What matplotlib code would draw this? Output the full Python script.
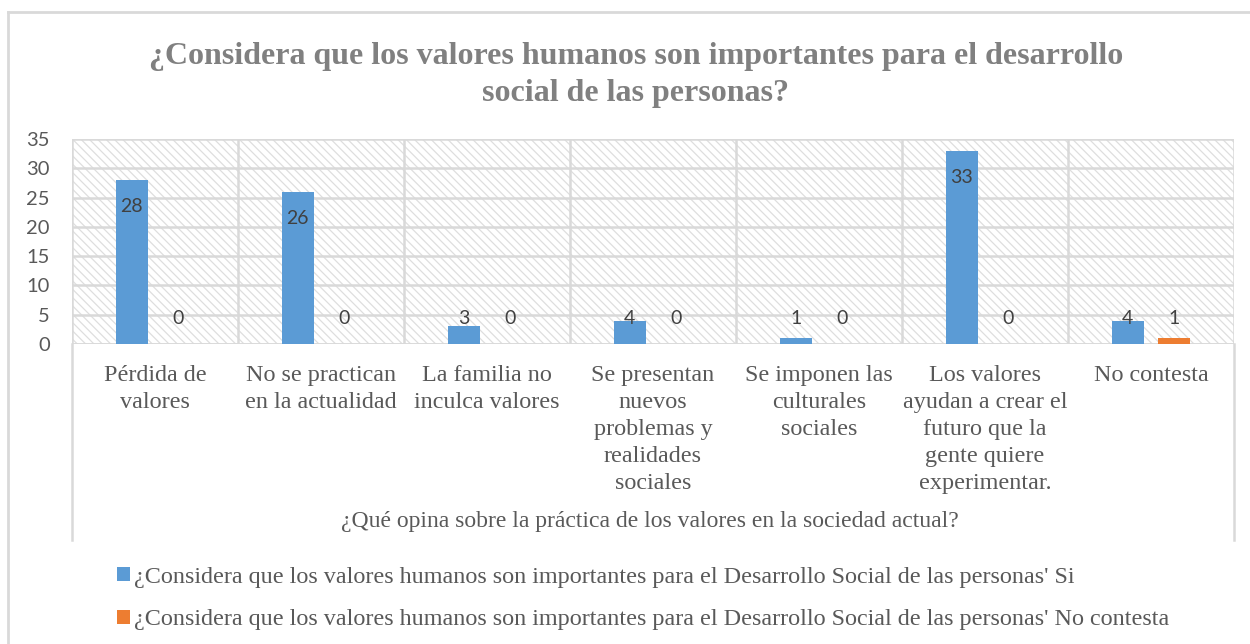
import numpy as np
import matplotlib
matplotlib.use("Agg")
import matplotlib.pyplot as plt
from matplotlib.lines import Line2D
from matplotlib.patches import Patch

# datos
categorias = ["Pérdida de\nvalores", "No se practican\nen la actualidad",
              "La familia no\ninculca valores",
              "Se presentan\nnuevos\nproblemas y\nrealidades\nsociales",
              "Se imponen las\nculturales\nsociales",
              "Los valores\nayudan a crear el\nfuturo que la\ngente quiere\nexperimentar.",
              "No contesta"]
si = [28, 26, 3, 4, 1, 33, 4]
no_contesta = [0, 0, 0, 0, 0, 0, 1]
serie_si = "¿Considera que los valores humanos son importantes para el Desarrollo Social de las personas' Si"
serie_nc = "¿Considera que los valores humanos son importantes para el Desarrollo Social de las personas' No contesta"
titulo = "¿Considera que los valores humanos son importantes para el desarrollo\nsocial de las personas?"
eje_x = "¿Qué opina sobre la práctica de los valores en la sociedad actual?"

azul = "#5B9BD5"
naranja = "#ED7D31"
gris_txt = "#595959"
gris_linea = "#d9d9d9"

plt.rcParams['hatch.color'] = "#dedede"
plt.rcParams['hatch.linewidth'] = 0.9

W, H = 1250, 644
fig = plt.figure(figsize=(W / 100, H / 100), dpi=100)

def fx(px):
    return px / W

def fy(py):
    return 1 - py / H

ax = fig.add_axes([fx(72), fy(344), fx(1234) - fx(72), fy(139) - fy(344)])
ax.set_facecolor("white")
ax.patch.set_hatch("\\\\\\\\")
ax.patch.set_edgecolor("#dedede")

x = np.arange(len(categorias))
ancho = 0.19
desp = 0.14
ax.bar(x - desp, si, ancho, color=azul, zorder=3)
ax.bar(x + desp, no_contesta, ancho, color=naranja, zorder=3)

# etiquetas de datos
for i in range(len(x)):
    ax.text(x[i] - desp, max(si[i] - 4.6, 4.4), str(si[i]), ha="center", va="center",
            fontsize=14, color="#404040", family="Lato", zorder=4)
    ax.text(x[i] + desp, max(no_contesta[i] - 4.6, 4.4), str(no_contesta[i]), ha="center",
            va="center", fontsize=14, color="#404040", family="Lato", zorder=4)

ax.set_xlim(-0.5, len(x) - 0.5)
ax.set_ylim(0, 35)
ax.set_yticks(range(0, 36, 5))
ax.yaxis.grid(True, color=gris_linea, linewidth=1.8, zorder=1)
ax.set_axisbelow(True)
for i in range(len(x) + 1):
    ax.axvline(i - 0.5, color=gris_linea, linewidth=1.8, zorder=1)
for s in ax.spines.values():
    s.set_visible(False)
ax.axhline(0, color=gris_linea, linewidth=1.8, zorder=2)
ax.set_xticks([])
ax.tick_params(axis="y", length=0, pad=16, labelsize=14.5, labelcolor=gris_txt)
for lb in ax.get_yticklabels():
    lb.set_family("Lato")

# etiquetas de categorias
for i, c in enumerate(categorias):
    ax.text(x[i], -3.6, c, ha="center", va="top", fontsize=17.4, color=gris_txt,
            family="Liberation Serif", linespacing=1.38)

fig.text(fx(650), fy(522), eje_x, ha="center", va="center", fontsize=17,
         color=gris_txt, family="Liberation Serif")

# lineas exteriores del area de categorias
for px in (72, 1234):
    fig.add_artist(Line2D([fx(px), fx(px)], [fy(344), fy(540)], color=gris_linea, linewidth=1.8))

# borde del grafico
fig.add_artist(Line2D([fx(8), 1], [fy(12), fy(12)], color=gris_linea, linewidth=2))
fig.add_artist(Line2D([fx(8), fx(8)], [fy(12), 0], color=gris_linea, linewidth=2))

fig.text(fx(636), fy(75), titulo, ha="center", va="center", fontsize=23, fontweight="bold",
         color="#808080", family="Liberation Serif", linespacing=1.4)

handles = [Patch(facecolor=azul, label=serie_si), Patch(facecolor=naranja, label=serie_nc)]
fig.legend(handles=handles, loc="upper left", bbox_to_anchor=(fx(95), fy(545)), ncol=1,
           frameon=False, handlelength=0.55, handleheight=0.55, handletextpad=0.15,
           labelspacing=0.9, prop={"family": "Liberation Serif", "size": 17.4},
           labelcolor=gris_txt)

fig.savefig("out.png", dpi=100)
